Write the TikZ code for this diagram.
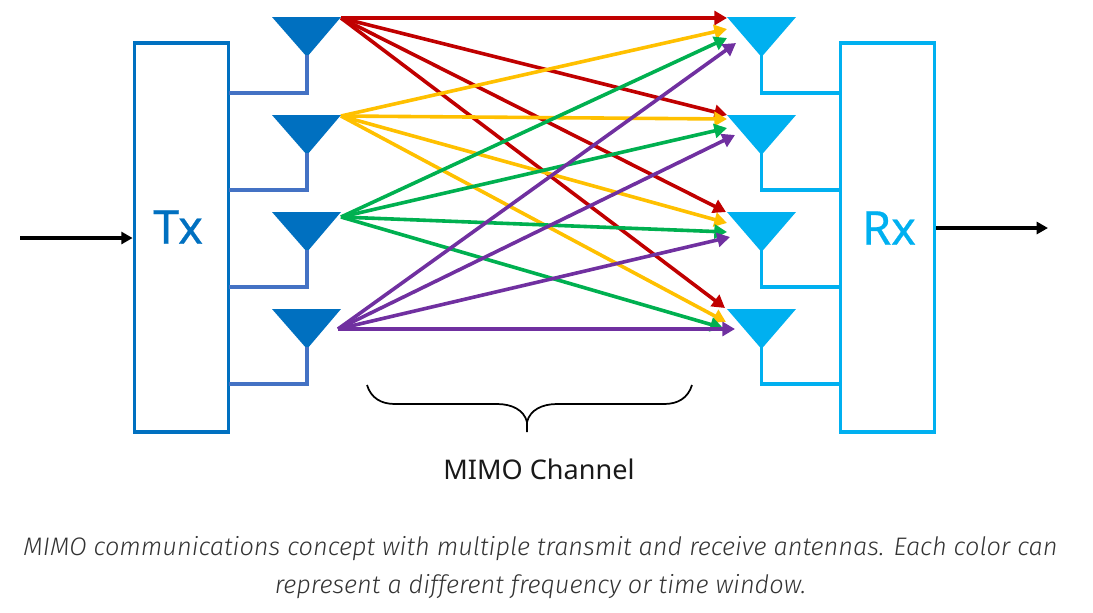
\documentclass[tikz,border=0pt]{standalone}
\usepackage{fontspec}
\setmainfont{Noto Sans}
\newfontfamily\labelfont[FakeBold=0.5]{Noto Sans}
\newfontfamily\capfont[ItalicFont={Fira Sans Light Italic}]{Fira Sans}
\usetikzlibrary{arrows.meta,positioning}
\definecolor{txblue}{HTML}{0070C0}
\definecolor{feedblue}{HTML}{4472C4}
\definecolor{rxblue}{HTML}{00B0F0}
\definecolor{linkred}{HTML}{C00000}
\definecolor{linkyellow}{HTML}{FFC000}
\definecolor{linkgreen}{HTML}{00B050}
\definecolor{linkpurple}{HTML}{7030A0}
\definecolor{captext}{HTML}{333333}
\tikzset{
    unitbox/.style={draw, line width=2.8pt, minimum width=70.5pt, minimum height=291.75pt, inner sep=0pt},
    feedline/.style={line width=2.5pt},
    link/.style={line width=2.7pt, -{Triangle[length=9.5pt,width=10.5pt]}},
    plainarrow/.style={black, line width=2.4pt, -{Triangle[length=8.5pt,width=9pt]}},
    boxlabel/.style={font=\labelfont\fontsize{35}{35}\selectfont, inner sep=0pt},
    caption/.style={font=\capfont\itshape\fontsize{19}{28.5}\selectfont, text=captext, align=center, inner sep=0pt}
}
\begin{document}
\begin{tikzpicture}[x=0.75pt, y=-0.75pt]
\useasboundingbox (0,0) rectangle (1093,612);
% boxes
\node[unitbox, txblue] (tx) at (181.5,237.5) {};
\node[unitbox, rxblue] (rx) at (887.5,237.5) {};
\node[boxlabel, text=txblue] (txlabel) at (178,227) {Tx};
\node[boxlabel, text=rxblue] (rxlabel) at (889,228) {Rx};
% antennas
\foreach \i/\y/\b in {1/17/93, 2/115/190, 3/212/287, 4/309/384} {
    \coordinate (ta\i) at (341,\y);
    \coordinate (ra\i) at (727,\y);
    \fill[txblue] (272,\y) -- (ta\i) -- (307,\y+40) -- cycle;
    \fill[rxblue] (ra\i) -- (796,\y) -- (761.5,\y+40) -- cycle;
    \coordinate (tf\i) at (229,\b);
    \coordinate (rf\i) at (840,\b);
    \draw[feedline, feedblue] (307,\y+38) |- (tf\i);
    \draw[feedline, rxblue] (761.5,\y+38) |- (rf\i);
}
% link start points
\coordinate (t1) at (341,18);
\coordinate (t2) at (341,116);
\coordinate (t3) at (341,217);
\coordinate (t4) at (338,329);
% links
\foreach \tip in {(727,18), (727,115), (726,212), (725,308)}
    \draw[link, linkred] (t1) -- \tip;
\foreach \tip in {(727,29), (727,119), (727,223), (726,322)}
    \draw[link, linkyellow] (t2) -- \tip;
\foreach \tip in {(727,38), (727,128), (727,232), (723,328)}
    \draw[link, linkgreen] (t3) -- \tip;
\foreach \tip in {(736,43), (735,135), (730,237), (735,329)}
    \draw[link, linkpurple] (t4) -- \tip;
% in and out
\coordinate (inp) at (20,238);
\coordinate (outp) at (1048,228);
\draw[plainarrow] (inp) -- (inp -| tx.west);
\draw[plainarrow] (rx.east |- outp) -- (outp);
% brace
\coordinate (brl) at (367,385);
\coordinate (brr) at (692,385);
\coordinate (brb) at (527,432);
\draw[line width=1.3pt, black] (brl) .. controls (371,398) and (381,404) .. (395,404)
    -- (497,404) .. controls (512,404) and (524,410) .. (527,422) -- (brb);
\draw[line width=1.3pt, black] (brr) .. controls (688,398) and (678,404) .. (664,404)
    -- (557,404) .. controls (542,404) and (530,410) .. (527,422);
% texts
\node[inner sep=0pt, font=\fontsize{20.3}{24}\selectfont, text=black!90] (chlabel) at (539,469) {MIMO Channel};
\node[caption] (captext) at (540.5,568) {MIMO communications concept with multiple transmit and receive antennas. Each color can\\represent a different frequency or time window.};
\end{tikzpicture}
\end{document}
